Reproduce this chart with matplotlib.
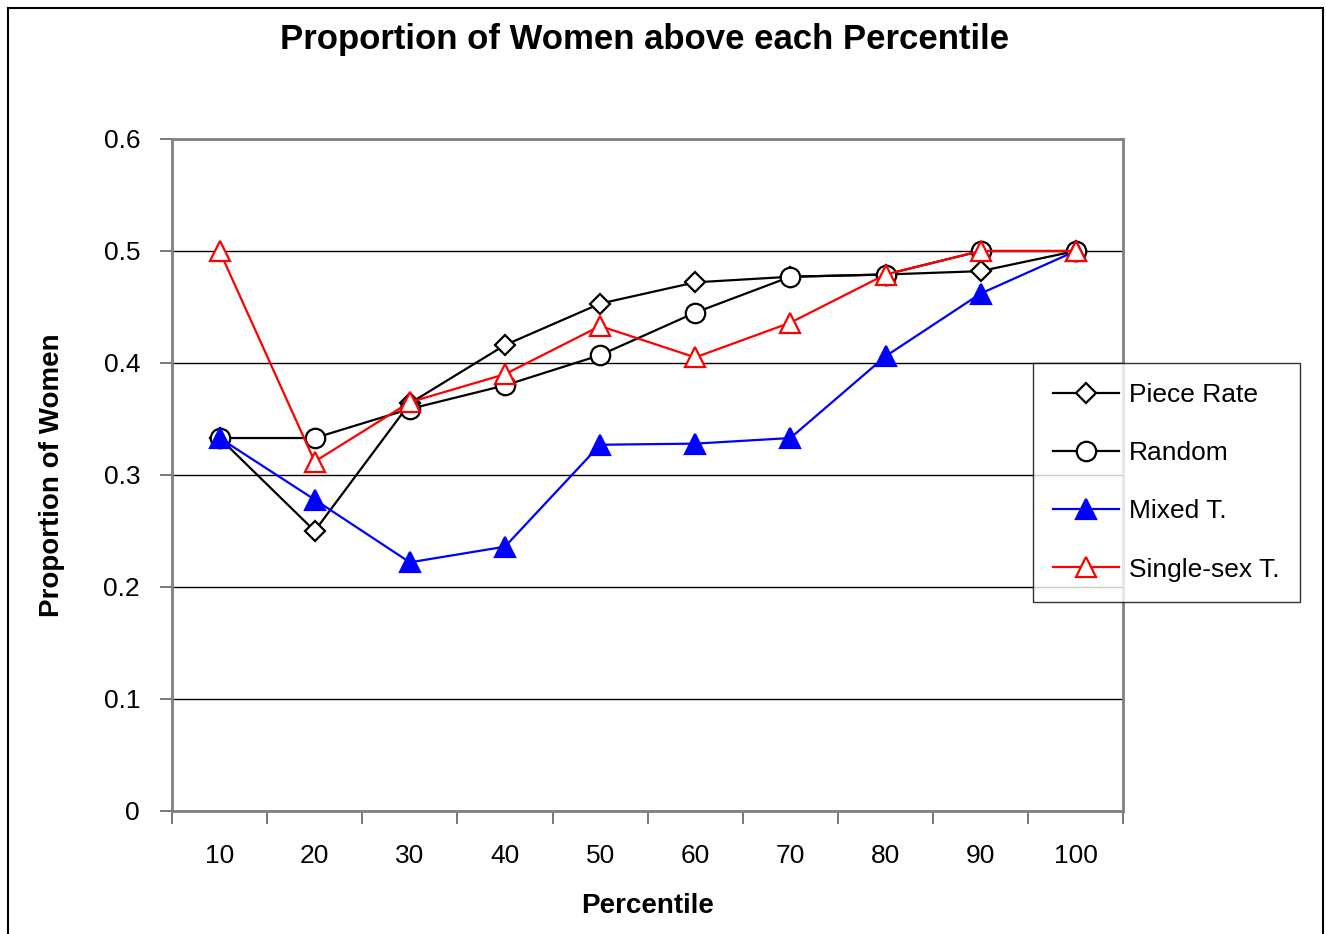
import matplotlib.pyplot as plt
from matplotlib.patches import Rectangle

# Share of women above each percentile, by treatment
percentiles = ['10', '20', '30', '40', '50', '60', '70', '80', '90', '100']
piece_rate = [0.333, 0.250, 0.364, 0.416, 0.453, 0.472, 0.477, 0.479, 0.482, 0.500]
random_grp = [0.333, 0.333, 0.359, 0.380, 0.407, 0.445, 0.477, 0.479, 0.500, 0.500]
mixed_t = [0.333, 0.278, 0.222, 0.236, 0.327, 0.328, 0.333, 0.406, 0.462, 0.500]
single_sex_t = [0.500, 0.312, 0.365, 0.390, 0.433, 0.405, 0.436, 0.479, 0.500, 0.500]

plt.rcParams['font.family'] = ['Liberation Sans', 'DejaVu Sans']

fig = plt.figure(figsize=(13.26, 9.34), dpi=100)
ax = fig.add_axes([0.1297, 0.1317, 0.7175, 0.7195])

x = range(len(percentiles))
ax.plot(x, piece_rate, color='black', lw=1.6, marker='D', ms=10,
        mfc='white', mec='black', mew=1.6, label='Piece Rate')
ax.plot(x, random_grp, color='black', lw=1.6, marker='o', ms=14,
        mfc='white', mec='black', mew=1.6, label='Random')
ax.plot(x, mixed_t, color='blue', lw=1.6, marker='^', ms=14,
        mfc='blue', mec='blue', mew=1.6, label='Mixed T.')
ax.plot(x, single_sex_t, color='red', lw=1.6, marker='^', ms=14,
        mfc='white', mec='red', mew=1.6, label='Single-sex T.')

ax.set_ylim(0, 0.6)
ax.set_yticks([0, 0.1, 0.2, 0.3, 0.4, 0.5, 0.6])
ax.set_yticklabels(['0', '0.1', '0.2', '0.3', '0.4', '0.5', '0.6'])
ax.yaxis.grid(True, color='black', lw=1)
ax.set_axisbelow(True)

# category axis: ticks between categories, labels centred on them
ax.set_xlim(-0.5, len(percentiles) - 0.5)
ax.set_xticks([i - 0.5 for i in range(len(percentiles) + 1)])
ax.set_xticklabels([])
ax.set_xticks(list(x), minor=True)
ax.set_xticklabels(percentiles, minor=True)
ax.tick_params(axis='x', which='major', direction='out', length=9, width=1.2, color='#606060')
ax.tick_params(axis='x', which='minor', length=0, pad=24, labelsize=19)
ax.tick_params(axis='y', direction='out', length=9, width=1.2, color='#606060',
               pad=14, labelsize=19)

for side in ['left', 'right', 'top', 'bottom']:
    ax.spines[side].set_color('#808080')
    ax.spines[side].set_linewidth(2)

ax.set_xlabel('Percentile', fontsize=20, fontweight='bold', labelpad=18)
ax.set_ylabel('Proportion of Women', fontsize=20, fontweight='bold', labelpad=28)
fig.text(0.4864, 0.958, 'Proportion of Women above each Percentile',
         ha='center', va='center', fontsize=25, fontweight='bold')

leg = fig.legend(loc='upper left', bbox_to_anchor=(1033 / 1326, 1 - 363 / 934),
                 fontsize=19, frameon=True, fancybox=False, edgecolor='black',
                 handlelength=2.5, labelspacing=1.3, borderpad=0.75,
                 handletextpad=0.4, borderaxespad=0)
leg.get_frame().set_linewidth(1)

# border around the whole chart
fig.patches.append(Rectangle((8 / 1326, -0.01), 1315 / 1326, 1 - 8 / 934 + 0.01,
                             transform=fig.transFigure, fill=False,
                             edgecolor='black', lw=1.5))

fig.savefig('out.png', dpi=100)
